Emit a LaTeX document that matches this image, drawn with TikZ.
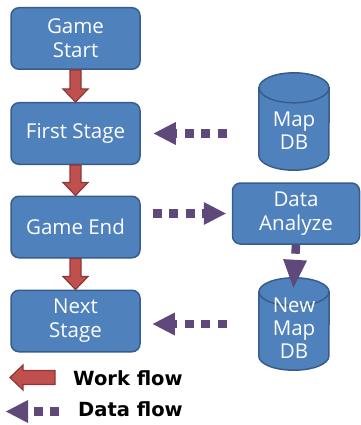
\documentclass[tikz,border=0pt]{standalone}
\usepackage{fontspec}
\setmainfont{Open Sans}
\newfontfamily\legendfont{DejaVu Sans}
\usetikzlibrary{arrows.meta,calc,backgrounds}

\definecolor{boxblue}{HTML}{4F81BD}
\definecolor{boxline}{HTML}{385D8A}
\definecolor{flowred}{HTML}{C0504D}
\definecolor{flowredline}{HTML}{8C3836}
\definecolor{datapurple}{HTML}{5F497A}

\tikzset{
  stepbox/.style={rectangle, rounded corners=8pt, draw=boxline, line width=1.5pt,
    fill=boxblue, text=white, minimum width=129pt, minimum height=61.5pt,
    inner sep=0pt, align=center, font=\fontsize{20.5}{24}\selectfont},
  dbnode/.style={rectangle, minimum width=70pt, minimum height=97pt, inner sep=0pt},
  dbtext/.style={text=white, align=center, inner sep=0pt,
    font=\fontsize{20.5}{23}\selectfont},
  dbshape/.style={draw=boxline, line width=1.5pt, fill=boxblue},
  workflow/.style={draw=flowredline, line width=1.2pt, fill=flowred, line join=miter},
  dataflow/.style={draw=datapurple, line width=8.5pt, dash pattern=on 9pt off 7.5pt,
    -{Triangle[length=22pt,width=23pt,line width=0pt]}},
  legendtext/.style={inner sep=0pt, text=black,
    font=\legendfont\bfseries\fontsize{19.5}{21}\selectfont},
}

% red work-flow arrow pointing down from the bottom of #1 to the top of #2
\newcommand\workdown[2]{%
  \path[workflow] ($(#1.south)+(-5.5,0)$) -- ($(#2.north)+(-5.5,-13)$)
    -- ($(#2.north)+(-12.5,-13)$) -- (#2.north) -- ($(#2.north)+(12.5,-13)$)
    -- ($(#2.north)+(5.5,-13)$) -- ($(#1.south)+(5.5,0)$) -- cycle;}

% database cylinder filling the box of node #1 (ellipse radii 35 x #2)
\newcommand\dbcylinder[2]{%
  \path[dbshape] ($(#1.north west)+(0,#2)$) -- ($(#1.south west)+(0,-#2)$)
    arc[start angle=180, end angle=0, x radius=35, y radius=#2]
    -- ($(#1.north east)+(0,#2)$) -- cycle;
  \path[dbshape] ($(#1.north)+(0,#2)$) ellipse[x radius=35, y radius=#2];}

\begin{document}
\begin{tikzpicture}[x=1pt, y=-1pt]
  \useasboundingbox (0,0) rectangle (360,425);

  % process steps
  \node[stepbox] (start) at (75.5,38.5) {Game\\Start};
  \node[stepbox] (first) at (75.5,133.5) {First Stage};
  \node[stepbox] (gend)  at (75.5,227) {Game End};
  \node[stepbox] (next)  at (75.5,321) {Next\\Stage};
  \node[stepbox, minimum width=127pt, minimum height=61pt] (data) at (296,213.5) {Data\\Analyze};

  % databases (text sits in the body, below the top ellipse)
  \node[dbnode, label={[dbtext, name=maptext, yshift=-9pt]center:Map\\DB}]
    (mapdb) at (294,121.5) {};
  \node[dbnode, minimum height=92pt,
        label={[dbtext, name=newtext, yshift=-4pt]center:New\\Map\\DB}]
    (newdb) at (294,324) {};
  \begin{pgfonlayer}{background}
    \fill[white] (0,0) rectangle (360,425);
    \dbcylinder{mapdb}{15}
    \dbcylinder{newdb}{14}
  \end{pgfonlayer}

  % work flow
  \workdown{start}{first}
  \workdown{first}{gend}
  \workdown{gend}{next}

  % data flow
  \draw[dataflow, shorten <=32pt, shorten >=13pt] (mapdb.west |- first.east) -- (first.east);
  \draw[dataflow, shorten <=12pt, shorten >=6pt] (gend.east |- data.west) -- (data.west);
  \draw[dataflow, shorten >=-10pt, -{Triangle[length=28pt,width=24pt,line width=0pt]}]
    (data.south) -- (newdb.north);
  \draw[dataflow, shorten <=32pt, shorten >=12pt] (newdb.west) -- (newdb.west -| next.east);

  % legend
  \coordinate (wtip) at (10,377.5);
  \coordinate (wtail) at (55,377.5);
  \path[workflow] (wtip) -- ($(wtip)+(13,-12.5)$) -- ($(wtip)+(13,-7)$)
    -- ($(wtail)+(0,-7)$) -- ($(wtail)+(0,7)$) -- ($(wtip)+(13,7)$)
    -- ($(wtip)+(13,12.5)$) -- cycle;
  \node[legendtext, anchor=base west] (wlabel) at (73,385.5) {Work flow};

  \coordinate (dtip) at (6,411.5);
  \coordinate (dtail) at (59,411.5);
  \draw[dataflow] (dtail) -- (dtip);
  \node[legendtext, anchor=base west] (dlabel) at (78,416.5) {Data flow};
\end{tikzpicture}
\end{document}
